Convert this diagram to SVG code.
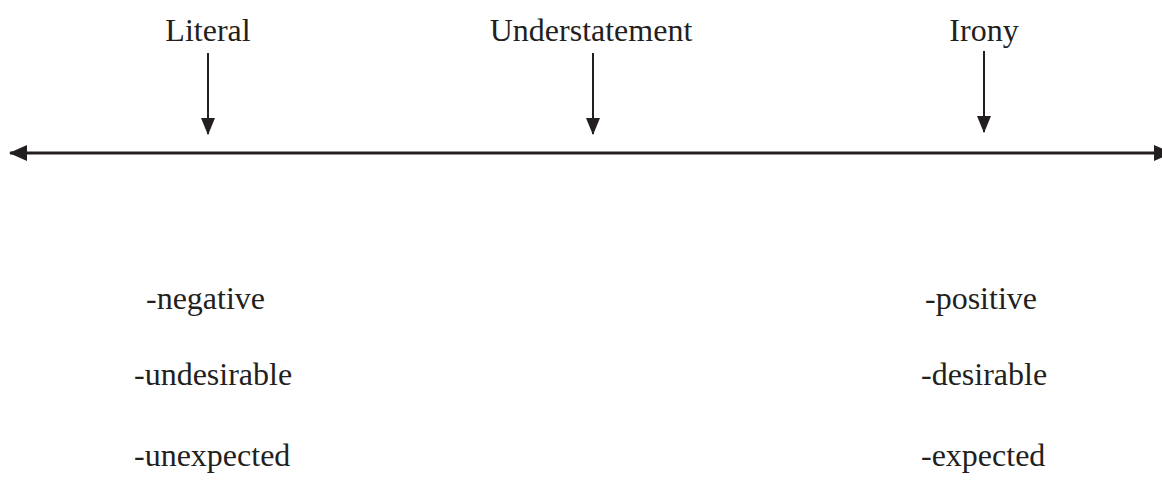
<svg xmlns="http://www.w3.org/2000/svg" width="1162" height="482" viewBox="0 0 1162 482">
<style>
text{font-family:"Liberation Serif","Times New Roman",serif;font-size:32px;fill:#231f20}
.c{stroke:#231f20;fill:none}
</style>
<defs>
<marker id="ah" markerWidth="17" markerHeight="14" refX="16" refY="7" orient="auto" markerUnits="userSpaceOnUse" viewBox="0 0 17 14">
<path d="M0,0 L17,7 L0,14 z" fill="#231f20"/>
</marker>
<marker id="ab" markerWidth="18" markerHeight="16" refX="17" refY="8" orient="auto-start-reverse" markerUnits="userSpaceOnUse" viewBox="0 0 18 16">
<path d="M0,0 L18,8 L0,16 z" fill="#231f20"/>
</marker>
</defs>
<g id="connectors">
<line class="c" x1="10" y1="153" x2="1171" y2="153" stroke-width="3" marker-start="url(#ab)" marker-end="url(#ab)"/>
<line class="c" x1="208" y1="53" x2="208" y2="134" stroke-width="2" marker-end="url(#ah)"/>
<line class="c" x1="593" y1="53" x2="593" y2="134" stroke-width="2" marker-end="url(#ah)"/>
<line class="c" x1="984" y1="51" x2="984" y2="132" stroke-width="2" marker-end="url(#ah)"/>
</g>
<g id="literal"><text x="208" y="41" text-anchor="middle">Literal</text></g>
<g id="understatement"><text x="591" y="41" text-anchor="middle">Understatement</text></g>
<g id="irony"><text x="984" y="41" text-anchor="middle">Irony</text></g>
<g id="left-list">
<text x="146" y="309">-negative</text>
<text x="134" y="385">-undesirable</text>
<text x="134" y="466">-unexpected</text>
</g>
<g id="right-list">
<text x="925" y="309">-positive</text>
<text x="921" y="385">-desirable</text>
<text x="921" y="466">-expected</text>
</g>
</svg>
